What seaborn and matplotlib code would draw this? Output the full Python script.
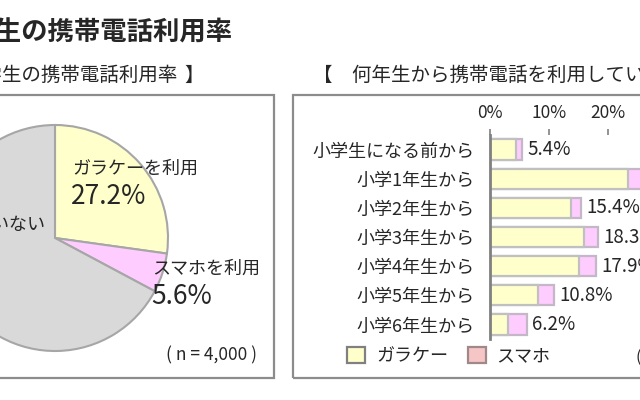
import numpy as np
import pandas as pd
import seaborn as sns
import matplotlib.pyplot as plt
from matplotlib.patches import Rectangle, Patch

# 小学生の携帯電話利用率 (pie)
pie_labels = ['ガラケーを利用', 'スマホを利用', '利用していない']
pie_values = [27.2, 5.6, 67.2]

# 何年生から携帯電話を利用しているか (stacked bar)
grades = ['小学生になる前から', '小学1年生から', '小学2年生から', '小学3年生から',
          '小学4年生から', '小学5年生から', '小学6年生から']
total_pct = [5.4, 26.0, 15.4, 18.3, 17.9, 10.8, 6.2]
garake_pct = [4.4, 23.4, 13.7, 15.9, 15.0, 8.2, 3.1]
xticks = [0, 10, 20, 30]
legend_labels = ['ガラケー', 'スマホ']

yellow = '#ffffcc'
pink = '#ffccff'
gray = '#d9d9d9'

sns.set_style('white')
plt.rcParams['font.family'] = ['Noto Sans CJK JP', 'DejaVu Sans']

W, H = 640, 400
fig = plt.figure(figsize=(6.4, 4.0), dpi=100)


def fx(x):
    return x / W


def fy(y):
    return 1 - y / H


def box(l, t, r, b):
    return [fx(l), fy(b), (r - l) / W, (b - t) / H]


# =============================================================================
# headings
# =============================================================================
fig.text(fx(233), fy(33), '小学生の携帯電話利用率', fontsize=19, fontweight='bold',
         ha='right', va='center')
fig.text(fx(177), fy(75), '【 小学生の携帯電話利用率', fontsize=14,
         ha='right', va='center')
fig.text(fx(184), fy(75), '】', fontsize=14, ha='left', va='center')
fig.text(fx(313), fy(75), '【　何年生から携帯電話を利用しているか　】', fontsize=14,
         ha='left', va='center')

# panel frames
fig.add_artist(Rectangle((fx(-5), fy(378)), 279 / W, 283 / H, transform=fig.transFigure,
                         fill=False, edgecolor='#8c8c8c', lw=1.6))
fig.add_artist(Rectangle((fx(293), fy(378)), 370 / W, 283 / H, transform=fig.transFigure,
                         fill=False, edgecolor='#8c8c8c', lw=1.6))

# =============================================================================
# pie
# =============================================================================
r = 113 * 1.03
ax1 = fig.add_axes(box(55 - r, 238 - r, 55 + r, 238 + r))
ax1.pie(pie_values, colors=[yellow, pink, gray], startangle=90, counterclock=False,
        wedgeprops=dict(edgecolor='#a6a6a6', linewidth=1.5))
ax1.set_xlim(-1.03, 1.03)
ax1.set_ylim(-1.03, 1.03)
ax1.set_aspect('equal')
ax1.axis('off')

fig.text(fx(72), fy(169), pie_labels[0], fontsize=13, va='center')
fig.text(fx(71), fy(197), f'{pie_values[0]}%', fontsize=19, va='center')
fig.text(fx(152), fy(269), pie_labels[1], fontsize=13, va='center')
fig.text(fx(151), fy(297), f'{pie_values[1]}%', fontsize=19, va='center')
fig.text(fx(46), fy(225), pie_labels[2], fontsize=13, ha='right', va='center')
fig.text(fx(212), fy(355), '( n = 4,000 )', fontsize=12.5, ha='center', va='center')

# =============================================================================
# stacked bars
# =============================================================================
px_per_pct = 5.9
ax2 = fig.add_axes(box(490, 135, 490 + 30 * px_per_pct, 339))
df = pd.DataFrame({'grade': grades, 'total': total_pct, 'garake': garake_pct})
sns.barplot(data=df, x='total', y='grade', color=pink, edgecolor='#c4b8c8',
            linewidth=1.6, width=0.7, saturation=1, ax=ax2)
sns.barplot(data=df, x='garake', y='grade', color=yellow, edgecolor='#c0c0c0',
            linewidth=1.6, width=0.7, saturation=1, ax=ax2)
ax2.set_xlim(0, 30)
ax2.set_ylim(6.5, -0.5)
ax2.set_xlabel('')
ax2.set_ylabel('')

ax2.xaxis.tick_top()
ax2.set_xticks(xticks)
ax2.set_xticklabels([f'{t}%' for t in xticks], fontsize=12.5)
ax2.tick_params(axis='x', direction='out', length=4, width=1.2, color='#808080', pad=5)
ax2.tick_params(axis='y', which='major', length=0, pad=11, labelsize=13)
ax2.set_yticks(np.arange(-0.5, 7), minor=True)
ax2.tick_params(axis='y', which='minor', length=4, width=1.2, color='#808080')

for side in ['top', 'right', 'bottom']:
    ax2.spines[side].set_visible(False)
ax2.spines['left'].set_color('#808080')
ax2.spines['left'].set_linewidth(2)

for i, t in enumerate(total_pct):
    ax2.annotate(f'{t}%', (t, i), xytext=(4, 0), textcoords='offset points',
                 va='center', fontsize=13.5, annotation_clip=False)

# legend
handles = [Patch(facecolor=yellow, edgecolor='#808080', lw=1.6, label=legend_labels[0]),
           Patch(facecolor='#f6c6c6', edgecolor='#a08888', lw=1.6, label=legend_labels[1])]
fig.legend(handles=handles, loc='center left', bbox_to_anchor=(fx(347), fy(356)),
           ncol=2, frameon=False, fontsize=13, handlelength=1.0, handleheight=1.0,
           handletextpad=0.6, columnspacing=1.1, borderpad=0, borderaxespad=0)
fig.text(fx(636), fy(357), '( n = 1,312 )', fontsize=12, ha='left', va='center')

fig.savefig('out.png', dpi=100)
